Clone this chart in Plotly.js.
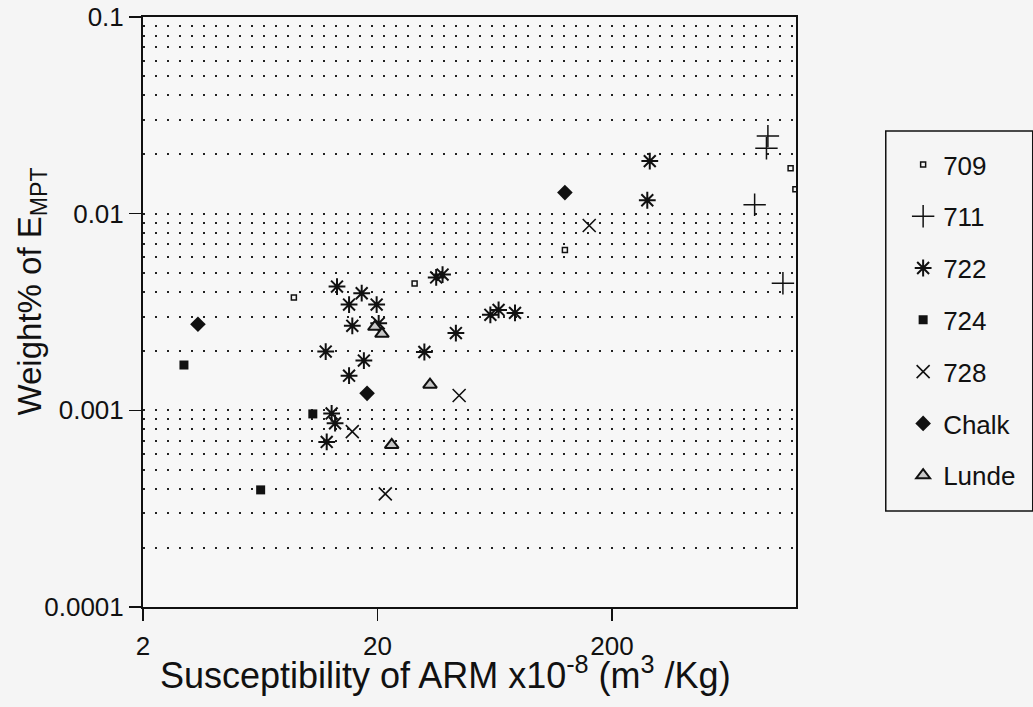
<!DOCTYPE html>
<html><head><meta charset="utf-8">
<script src="https://cdn.plot.ly/plotly-3.0.1.min.js"></script>
<style>html,body{margin:0;padding:0;background:#f5f5f5}</style>
</head><body>
<div id="chart" style="width:1033px;height:707px"></div>
<script>
const seriesNames = ['709','711','722','724','728','Chalk','Lunde'];
const x709 = [8.80, 28.8, 126, 1156, 1212];
const y709 = [0.00375, 0.00442, 0.00654, 0.0170, 0.0133];
const x711 = [925, 912, 812, 1072];
const y711 = [0.0248, 0.0215, 0.0111, 0.00443];
const x722 = [13.44, 17.13, 15.13, 19.84, 15.62, 20.24, 12.03, 17.5, 15.13, 12.75, 13.19, 12.15, 35.6, 37.9, 31.7, 43.2, 60.6, 65.7, 77.2, 290, 283];
const y722 = [0.00426, 0.00394, 0.00345, 0.00345, 0.00269, 0.00277, 0.00199, 0.00179, 0.00150, 0.000964, 0.000860, 0.000691, 0.00474, 0.00490, 0.00198, 0.00247, 0.00306, 0.00324, 0.00313, 0.0185, 0.0117];
const x724 = [2.99, 10.6, 6.35];
const y724 = [0.00170, 0.000959, 0.000394];
const x728 = [15.62, 21.6, 44.6, 160];
const y728 = [0.000779, 0.000376, 0.00119, 0.00871];
const xChalk = [3.43, 18.06, 126];
const yChalk = [0.00274, 0.00122, 0.0128];
const xLunde = [19.5, 20.9, 33.5, 23.0];
const yLunde = [0.00266, 0.00245, 0.00135, 0.000667];
const xTickVals = [2, 20, 200];
const xTickText = ['2', '20', '200'];
const yTickVals = [0.0001, 0.001, 0.01, 0.1];
const yTickText = ['0.0001', '0.001', '0.01', '0.1'];

const K = '#111';
function tr(name, xs, ys, marker) {
  return {type: 'scatter', mode: 'markers', name: name, legendgroup: name,
          x: xs, y: ys, marker: marker, cliponaxis: true, hoverinfo: 'x+y+name'};
}
const data = [
  tr(seriesNames[0], x709, y709, {symbol: 'square-open', size: 5, color: K, line: {width: 1.5, color: K}}),
  tr(seriesNames[1], x711, y711, {symbol: 'cross-thin', size: 16, color: K, line: {width: 1.5, color: K}}),
  tr(seriesNames[2], x722, y722, {symbol: 'asterisk-open', size: 14, color: K, line: {width: 2, color: K}}),
  tr(seriesNames[3], x724, y724, {symbol: 'square', size: 9, color: K, line: {width: 0}}),
  tr(seriesNames[4], x728, y728, {symbol: 'x-thin', size: 13, color: K, line: {width: 1.6, color: K}}),
  tr(seriesNames[5], xChalk, yChalk, {symbol: 'diamond', size: 12, color: K, line: {width: 0}}),
  tr(seriesNames[6], xLunde, yLunde, {symbol: 'triangle-up', size: 12, color: '#c8c8c8', line: {width: 2, color: K}})
];

// pixel helpers for placing layout furniture (plot area: x 143..805, y 17..607)
const px = v => (v - 143) / 662;
const py = v => 1 - (v - 17) / 590;

const gridStyle = {gridcolor: '#222', gridwidth: 2, griddash: '2px,10px'};
const layout = {
  width: 1033, height: 707,
  margin: {l: 143, r: 228, t: 17, b: 100, pad: 0},
  paper_bgcolor: '#f5f5f5', plot_bgcolor: '#f7f7f7',
  font: {family: 'Liberation Sans, Arial, sans-serif', color: '#111'},
  showlegend: true,
  xaxis: {
    type: 'log', range: [Math.log10(2), 3.086],
    tickmode: 'array', tickvals: xTickVals, ticktext: xTickText,
    ticks: 'outside', ticklen: 12, tickwidth: 1.5, tickcolor: K,
    tickfont: {size: 26, color: K}, ticklabelstandoff: 3,
    showline: true, linewidth: 2, linecolor: K, mirror: true,
    showgrid: false, zeroline: false
  },
  yaxis: Object.assign({
    type: 'log', range: [-4, -1],
    tickmode: 'array', tickvals: yTickVals, ticktext: yTickText,
    ticks: 'outside', ticklen: 12, tickwidth: 1.5, tickcolor: K,
    tickfont: {size: 26, color: K},
    showline: true, linewidth: 2, linecolor: K, mirror: true,
    showgrid: true, zeroline: false,
    minor: Object.assign({dtick: 'D1', showgrid: true, ticks: ''}, gridStyle)
  }, gridStyle),
  legend: {
    x: px(905.5), y: py(141), xanchor: 'left', yanchor: 'top',
    bgcolor: 'rgba(0,0,0,0)', borderwidth: 0,
    font: {size: 26, color: K}, tracegroupgap: 15, indentation: 8,
    itemsizing: 'trace'
  },
  shapes: [
    {type: 'rect', xref: 'paper', yref: 'paper', x0: px(896), x1: px(1045), y0: py(511), y1: py(131),
     line: {color: K, width: 1.5}, fillcolor: 'rgba(0,0,0,0)', layer: 'below'}
  ],
  annotations: [
    {text: 'Susceptibility of ARM x10<sup>-8</sup> (m<sup>3</sup> /Kg)', xref: 'paper', yref: 'paper',
     x: px(450), y: py(673), xanchor: 'center', yanchor: 'middle',
     showarrow: false, font: {size: 36, color: K}},
    {text: 'Weight% of E<sub>MPT</sub>', xref: 'paper', yref: 'paper', textangle: -90,
     x: px(30), y: py(292), xanchor: 'center', yanchor: 'middle',
     showarrow: false, font: {size: 33, color: K}}
  ]
};
Plotly.newPlot('chart', data, layout, {displayModeBar: false, staticPlot: true});
</script>
</body></html>
